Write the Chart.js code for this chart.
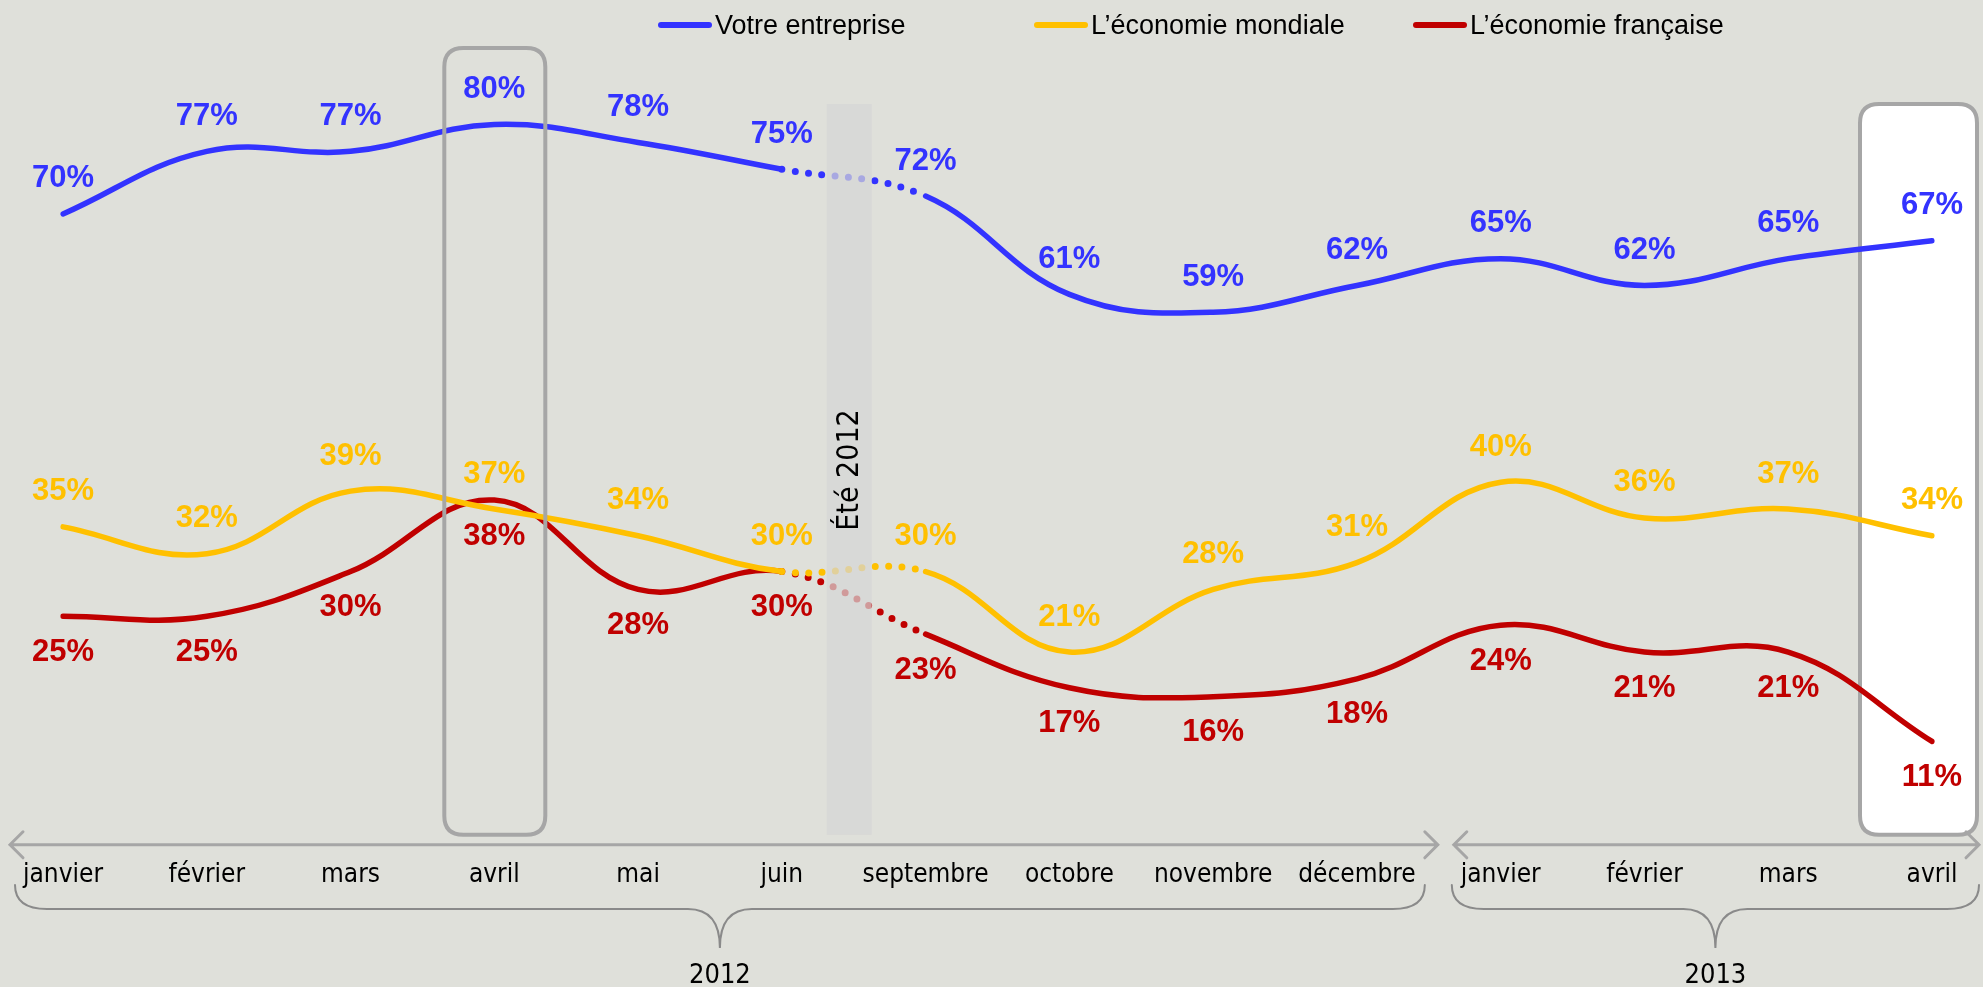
<!DOCTYPE html>
<html lang="fr">
<head>
<meta charset="utf-8">
<title>Confiance</title>
<script src="https://cdn.jsdelivr.net/npm/chart.js@4/dist/chart.umd.min.js"></script>
<style>
    html, body { margin: 0; padding: 0; background: #dfe0da; }
    #wrap { position: relative; width: 1983px; height: 987px; overflow: hidden; background: #dfe0da; }
    #chart { position: absolute; left: 0; top: 0; }
    .lg-line { position: absolute; top: 22px; width: 54px; height: 6px; border-radius: 3px; }
    .lg-text { position: absolute; top: 9px; font: 27px "Liberation Sans", Arial, sans-serif; color: #000; white-space: nowrap; line-height: 32px; }
</style>
</head>
<body>
<div id="wrap">
    <canvas id="chart" width="1983" height="987"></canvas>
    <div id="legend"></div>
</div>
<script>
const months = ['janvier', 'février', 'mars', 'avril', 'mai', 'juin', 'septembre',
    'octobre', 'novembre', 'décembre', 'janvier', 'février', 'mars', 'avril'];

const entreprise = [70, 77, 77, 80, 78, 75, 72, 61, 59, 62, 65, 62, 65, 67];
const mondiale   = [35, 32, 39, 37, 34, 30, 30, 21, 28, 31, 40, 36, 37, 34];
const francaise  = [25, 25, 30, 38, 28, 30, 23, 17, 16, 18, 24, 21, 21, 11];

const seriesNames  = ['Votre entreprise', 'L’économie mondiale', 'L’économie française'];
const seriesColors = ['#3333ff', '#ffc000', '#c00000'];

const years = ['2012', '2013'];
const summerLabel = 'Été 2012';

const gapIndex = 5;       // juin -> septembre : pas de mesure l'été
const highlightIndex = 3; // avril 2012
const lastIndex = months.length - 1;

const axisFont = '"DejaVu Sans Condensed", "DejaVu Sans", sans-serif';

// ---------- légende ----------
const legendEl = document.getElementById('legend');
const legendX = [658, 1034, 1413];
seriesNames.forEach((name, i) => {
    const line = document.createElement('div');
    line.className = 'lg-line';
    line.style.left = legendX[i] + 'px';
    line.style.background = seriesColors[i];
    legendEl.appendChild(line);

    const txt = document.createElement('div');
    txt.className = 'lg-text';
    txt.style.left = (legendX[i] + 57) + 'px';
    txt.textContent = name;
    legendEl.appendChild(txt);
});

function roundRect(ctx, x, y, w, h, r) {
    ctx.beginPath();
    ctx.moveTo(x + r, y);
    ctx.lineTo(x + w - r, y);
    ctx.quadraticCurveTo(x + w, y, x + w, y + r);
    ctx.lineTo(x + w, y + h - r);
    ctx.quadraticCurveTo(x + w, y + h, x + w - r, y + h);
    ctx.lineTo(x + r, y + h);
    ctx.quadraticCurveTo(x, y + h, x, y + h - r);
    ctx.lineTo(x, y + r);
    ctx.quadraticCurveTo(x, y, x + r, y);
    ctx.closePath();
}

function arrow(ctx, x0, x1, y) {
    const h = 13;
    ctx.beginPath();
    ctx.moveTo(x0, y);
    ctx.lineTo(x1, y);
    ctx.moveTo(x0 + h, y - h);
    ctx.lineTo(x0, y);
    ctx.lineTo(x0 + h, y + h);
    ctx.moveTo(x1 - h, y - h);
    ctx.lineTo(x1, y);
    ctx.lineTo(x1 - h, y + h);
    ctx.stroke();
}

function brace(ctx, x0, x1, yTop, yMid, yTip) {
    const xm = (x0 + x1) / 2;
    const r = 32;
    ctx.beginPath();
    ctx.moveTo(x0, yTop);
    ctx.quadraticCurveTo(x0, yMid, x0 + r, yMid);
    ctx.lineTo(xm - r, yMid);
    ctx.quadraticCurveTo(xm, yMid, xm, yTip);
    ctx.quadraticCurveTo(xm, yMid, xm + r, yMid);
    ctx.lineTo(x1 - r, yMid);
    ctx.quadraticCurveTo(x1, yMid, x1, yTop);
    ctx.stroke();
    return xm;
}

// ---------- décor : encadrés, été, flèches, accolades, valeurs ----------
const decor = {
    id: 'decor',
    beforeDatasetsDraw(chart) {
        const { ctx, chartArea: a, scales: { x } } = chart;
        const xr = x.getPixelForValue(lastIndex);
        ctx.save();
        roundRect(ctx, xr - 72, a.top + 51, 117, a.bottom - 5 - (a.top + 51), 19);
        ctx.fillStyle = '#ffffff';
        ctx.fill();
        ctx.lineWidth = 4;
        ctx.strokeStyle = '#a6a6a6';
        ctx.stroke();
        ctx.restore();
    },
    afterDatasetsDraw(chart) {
        const { ctx, chartArea: a, scales: { x } } = chart;
        ctx.save();

        // bande "Été 2012" par-dessus les courbes
        const mid = (x.getPixelForValue(gapIndex) + x.getPixelForValue(gapIndex + 1)) / 2 - 5;
        ctx.fillStyle = 'rgba(214,214,214,0.72)';
        ctx.fillRect(mid - 22, a.top + 51, 45, a.bottom - 5 - (a.top + 51));
        ctx.save();
        ctx.translate(mid + 1, 470);
        ctx.rotate(-Math.PI / 2);
        ctx.fillStyle = '#000';
        ctx.font = '30px ' + axisFont;
        ctx.textAlign = 'center';
        ctx.textBaseline = 'middle';
        ctx.fillText(summerLabel, 0, 0);
        ctx.restore();

        // encadré avril 2012
        const xa = x.getPixelForValue(highlightIndex);
        roundRect(ctx, xa - 50, a.top - 5, 101, a.bottom - a.top, 19);
        ctx.lineWidth = 4;
        ctx.strokeStyle = '#a6a6a6';
        ctx.stroke();

        // valeurs
        ctx.font = 'bold 31px "Liberation Sans", Arial, sans-serif';
        ctx.textAlign = 'center';
        ctx.textBaseline = 'middle';
        const offsets = [-35, -35, 36];
        chart.data.datasets.forEach((ds, di) => {
            const meta = chart.getDatasetMeta(di);
            ctx.fillStyle = ds.borderColor;
            meta.data.forEach((pt, i) => {
                ctx.fillText(ds.data[i] + '%', pt.x, pt.y + offsets[di]);
            });
        });

        // flèches de l'axe
        const split = (x.getPixelForValue(9) + x.getPixelForValue(10)) / 2;
        const x0 = x.getPixelForValue(0);
        const xn = x.getPixelForValue(lastIndex);
        const ya = a.bottom + 5;
        ctx.lineWidth = 3;
        ctx.strokeStyle = '#a6a6a6';
        ctx.lineCap = 'round';
        arrow(ctx, x0 - 53, split + 9, ya);
        arrow(ctx, split + 25, xn + 47, ya);

        // accolades des années
        ctx.lineWidth = 2;
        ctx.strokeStyle = '#8a8a8a';
        const m1 = brace(ctx, x0 - 48, split - 4, 885, 909, 948);
        const m2 = brace(ctx, split + 23, xn + 47, 885, 909, 948);
        ctx.fillStyle = '#000';
        ctx.font = '27px ' + axisFont;
        ctx.fillText(years[0], m1, 976);
        ctx.fillText(years[1], m2, 976);

        ctx.restore();
    }
};

function lineDataset(label, data, color) {
    return {
        label: label,
        data: data,
        borderColor: color,
        borderWidth: 5.5,
        borderCapStyle: 'round',
        tension: 0.4,
        pointRadius: 0,
        fill: false,
        segment: {
            borderDash: (c) => c.p0DataIndex === gapIndex ? [0, 13.4] : undefined,
            borderWidth: (c) => c.p0DataIndex === gapIndex ? 7 : undefined
        }
    };
}

const ctx = document.getElementById('chart');

new Chart(ctx, {
    type: 'line',
    data: {
        labels: months,
        datasets: [
            lineDataset(seriesNames[0], entreprise, seriesColors[0]),
            lineDataset(seriesNames[1], mondiale, seriesColors[1]),
            lineDataset(seriesNames[2], francaise, seriesColors[2])
        ]
    },
    options: {
        responsive: false,
        animation: false,
        layout: {
            padding: { left: 63, right: 51, top: 53, bottom: 76 }
        },
        plugins: {
            legend: { display: false },
            tooltip: { enabled: false }
        },
        scales: {
            x: {
                offset: false,
                grid: { display: false, drawTicks: false },
                border: { display: false },
                ticks: {
                    padding: 20,
                    color: '#000',
                    autoSkip: false,
                    maxRotation: 0,
                    font: { family: axisFont, size: 26 }
                }
            },
            y: {
                display: false,
                min: 0,
                max: 88
            }
        }
    },
    plugins: [decor]
});
</script>
</body>
</html>
